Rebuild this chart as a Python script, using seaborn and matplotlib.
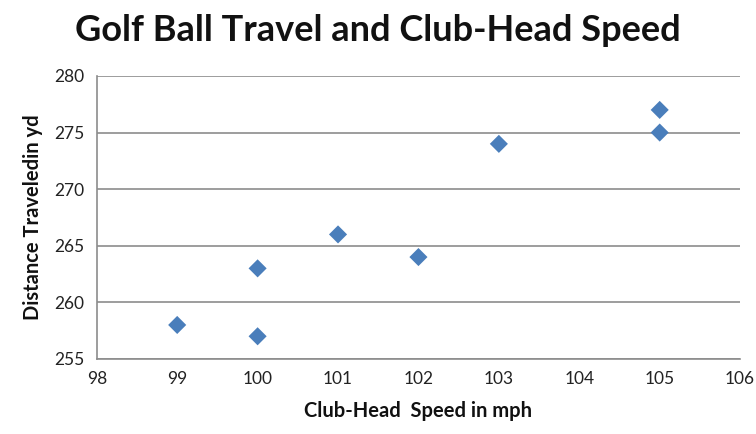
import numpy as np
import pandas as pd
import matplotlib
matplotlib.use("Agg")
import matplotlib.pyplot as plt
import seaborn as sns

# Data
speed_mph = [99, 100, 100, 101, 102, 103, 105, 105]
distance_yd = [258, 263, 257, 266, 264, 274, 277, 275]

x_ticks = [98, 99, 100, 101, 102, 103, 104, 105, 106]
y_ticks = [255, 260, 265, 270, 275, 280]

sns.set_theme(style="white")
plt.rcParams['font.family'] = ['Lato', 'DejaVu Sans']

df = pd.DataFrame({"speed": speed_mph, "distance": distance_yd})

fig = plt.figure(figsize=(7.56, 4.34), dpi=100)
ax = fig.add_axes([0.128, 0.173, 0.851, 0.652])

sns.scatterplot(data=df, x="speed", y="distance", ax=ax, marker="D",
                s=85, color="#4a7ebb", edgecolor="none", zorder=3)

ax.set_xlim(98, 106)
ax.set_ylim(255, 280)
ax.set_xticks(x_ticks)
ax.set_yticks(y_ticks)
ax.tick_params(axis="both", labelsize=12.5, colors="#222222", length=0, pad=9)

ax.yaxis.grid(True, color="#8c8c8c", linewidth=1.2)
ax.xaxis.grid(False)
for side in ["top", "right"]:
    ax.spines[side].set_visible(False)
for side in ["left", "bottom"]:
    ax.spines[side].set_color("#8c8c8c")
    ax.spines[side].set_linewidth(1.2)

ax.set_xlabel("Club-Head  Speed in mph", fontsize=14.5, fontweight="bold",
              color="#111111", labelpad=10)
ax.set_ylabel("Distance Traveledin yd", fontsize=14.5, fontweight="bold",
              color="#111111", labelpad=8)

fig.text(0.5, 0.93, "Golf Ball Travel and Club-Head Speed", ha="center", va="center",
         fontsize=26, fontweight="bold", color="#111111")

fig.savefig("out.png", dpi=100)
